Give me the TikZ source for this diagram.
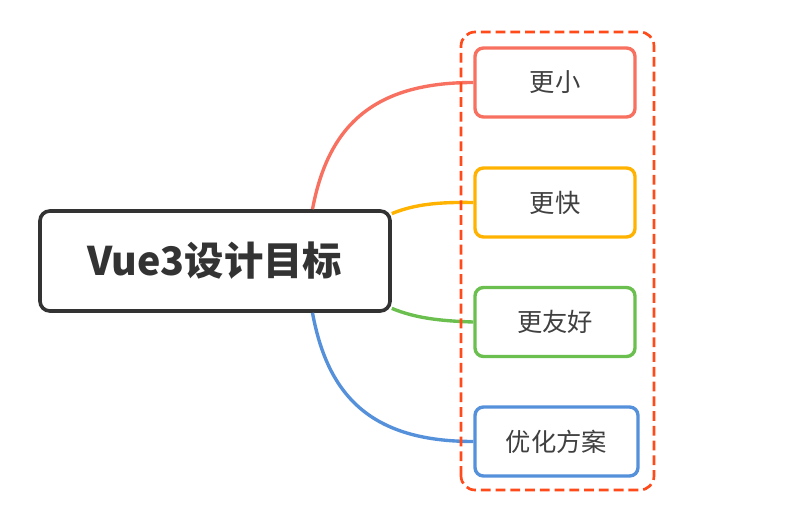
\documentclass[tikz,border=0pt]{standalone}
\usepackage{fontspec}
\newfontfamily\cjk{Noto Sans CJK SC}
\definecolor{goalgray}{HTML}{333333}
\definecolor{leaftext}{HTML}{404040}
\definecolor{smallred}{HTML}{F87060}
\definecolor{fastorange}{HTML}{FFB300}
\definecolor{friendgreen}{HTML}{6BBF4E}
\definecolor{planblue}{HTML}{5590DB}
\definecolor{framered}{HTML}{FF4A1A}

\begin{document}
\begin{tikzpicture}[
  leaf/.style={draw,line width=2.4pt,rounded corners=6pt,minimum width=4cm,minimum height=1.725cm,
    fill=white,text=leaftext,font=\cjk\fontsize{18}{21}\selectfont},
  branch/.style={line width=2.4pt}]
  \useasboundingbox (0,0) rectangle (20.275,13.075);
  \node[draw=goalgray,line width=2.6pt,rounded corners=7pt,minimum width=8.75cm,minimum height=2.5cm,
    text=goalgray,font=\cjk\bfseries\fontsize{28}{32}\selectfont] (goal) at (5.375,6.55) {Vue3设计目标};
  \node[leaf,draw=smallred] (small) at (13.875,11.0125) {更小};
  \node[leaf,draw=fastorange] (fast) at (13.875,8.0125) {更快};
  \node[leaf,draw=friendgreen] (friendly) at (13.875,5.025) {更友好};
  \node[leaf,draw=planblue,minimum width=4.075cm] (plan) at (13.9125,2.0375) {优化方案};
  % branches from the goal to each leaf
  \draw[branch,smallred] (goal.28.5) .. controls (8.2,9.9) and (9.3,11.0125) .. (small.west);
  \draw[branch,fastorange] (goal.15.5) .. controls (10.375,7.975) and (11.0,8.025) .. (fast.west);
  \draw[branch,friendgreen] (goal.-15.5) .. controls (10.375,5.125) and (11.0,5.05) .. (friendly.west);
  \draw[branch,planblue] (goal.-28.5) .. controls (8.2,3.15) and (9.3,2.0375) .. (plan.west);
  % group frame
  \draw[framered,line width=1.9pt,dash pattern=on 7pt off 3.5pt,rounded corners=10pt]
    (11.525,0.825) rectangle (16.35,12.275);
\end{tikzpicture}
\end{document}
